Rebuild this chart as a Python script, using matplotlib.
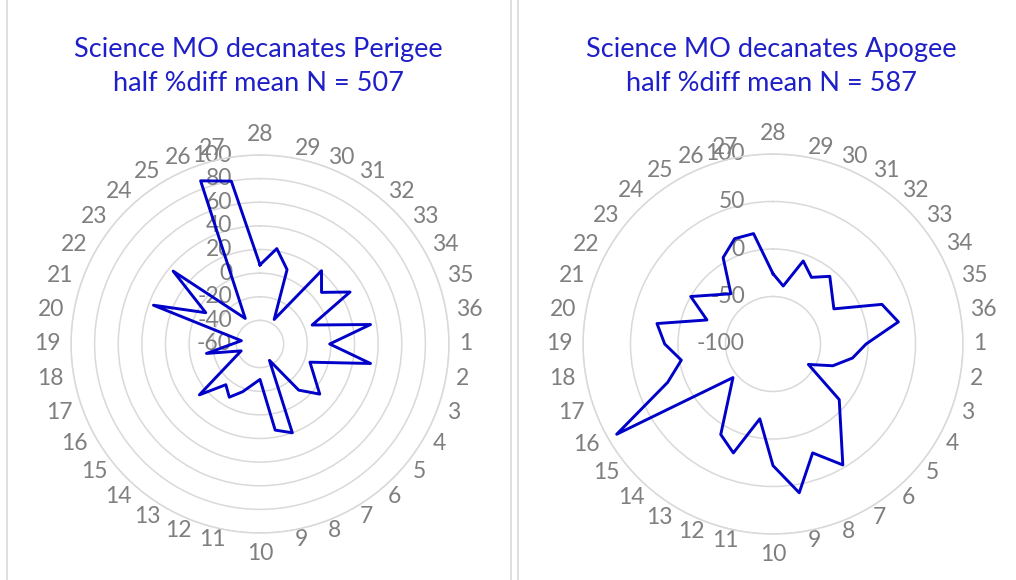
import numpy as np
import matplotlib
matplotlib.use("Agg")
import matplotlib.pyplot as plt
from matplotlib import transforms
from matplotlib.patches import Rectangle

plt.rcParams['font.family'] = ['Lato', 'DejaVu Sans']

# ---- data ----
categories = [28, 29, 30, 31, 32, 33, 34, 35, 36, 1, 2, 3, 4, 5, 6, 7, 8, 9,
              10, 11, 12, 13, 14, 15, 16, 17, 18, 19, 20, 21, 22, 23, 24, 25, 26, 27]

perigee = [7, 22, 7, -36, 21, 8, 28, -13, 35, -1, 35, -15, None, 6, -9, -44, 20, 14,
           -30, None, -17, -8, -15, 7, None, -43, -14, None, -44, 36, -7, 36, None, -35, 87, 80]

apogee = [-26, -38, -7, -19, -7, None, -26, 22, 34, -2, -15, -33, -57, -9, None, 47, 22, 59,
          28, -20, 22, 10, None, -45, 90, 18, -2, 14, 24, -26, 0, None, -31, 5, 18, 18]

perigee_ticks = [-60, -40, -20, 0, 20, 40, 60, 80, 100]
apogee_ticks = [-100, -50, 0, 50, 100]

titles = [("Science MO decanates Perigee", "half %diff mean N = 507"),
          ("Science MO decanates Apogee", "half %diff mean N = 587")]

LINE = '#0000C8'
TITLE = '#1F1FC8'
GRAY = '#7F7F7F'
GRID = '#D9D9D9'

W, H = 1016, 580
fig = plt.figure(figsize=(W / 100, H / 100), dpi=100)
fig.patch.set_facecolor('white')

# panel borders
fig.patches.append(Rectangle((7 / W, -0.02), (510.5 - 7) / W, 1.04, transform=fig.transFigure,
                             fill=False, edgecolor=GRID, linewidth=1.2))
fig.patches.append(Rectangle((518 / W, -0.02), 0.6, 1.04, transform=fig.transFigure,
                             fill=False, edgecolor=GRID, linewidth=1.2))

LABEL_FS = 16.5


def radar(cx, cy, R, values, ticks, title, title_x):
    ax = fig.add_axes([(cx - R) / W, (H - cy - R) / H, 2 * R / W, 2 * R / H], projection='polar')
    ax.set_theta_zero_location('N')
    ax.set_theta_direction(-1)
    n = len(categories)
    theta = np.arange(n) * 2 * np.pi / n
    ax.set_ylim(ticks[0], ticks[-1])
    ax.set_yticks(ticks[1:])
    ax.set_yticklabels([])
    ax.set_xticks([])
    ax.grid(axis='y', color=GRID, linewidth=1.1)
    ax.grid(axis='x', visible=False)
    ax.spines['polar'].set_color(GRID)
    ax.spines['polar'].set_linewidth(1.1)

    # series (empty cells skipped, neighbours connected)
    th = [t for t, v in zip(theta, values) if v is not None]
    vv = [v for v in values if v is not None]
    th.append(th[0])
    vv.append(vv[0])
    ax.plot(th, vv, color=LINE, linewidth=2.1, zorder=4, clip_on=False)

    # category labels
    for t, c in zip(theta, categories):
        s, co = np.sin(t), np.cos(t)
        off = transforms.offset_copy(ax.transData, fig=fig, x=10 * s, y=10 * co, units='dots')
        ha = 'center' if abs(s) < 0.01 else ('left' if s > 0 else 'right')
        va = 'bottom' if co > 0.99 else ('top' if co < -0.99 else 'center')
        ax.text(t, ticks[-1], str(c), transform=off, ha=ha, va=va, fontsize=LABEL_FS,
                color=GRAY, clip_on=False, zorder=2)

    # value axis labels
    off = transforms.offset_copy(ax.transData, fig=fig, x=-28, y=0, units='dots')
    for v in ticks:
        ax.text(0, v, str(v), transform=off, ha='right', va='center', fontsize=LABEL_FS,
                color=GRAY, clip_on=False, zorder=2)

    fig.text(title_x / W, 1 - 57 / H, title[0], ha='center', va='baseline', fontsize=19.5,
             color=TITLE)
    fig.text(title_x / W, 1 - 91 / H, title[1], ha='center', va='baseline', fontsize=19.5,
             color=TITLE)
    return ax


radar(260, 344, 189, perigee, perigee_ticks, titles[0], 258.5)
radar(773, 344, 190, apogee, apogee_ticks, titles[1], 771.5)

fig.savefig('out.png', dpi=100, facecolor='white')
